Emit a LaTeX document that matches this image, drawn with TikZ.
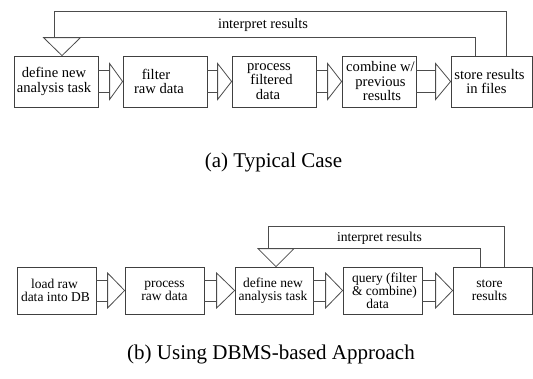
\documentclass[tikz,border=0pt]{standalone}
\usepackage{fontspec}
\setmainfont{Liberation Serif}
\usetikzlibrary{calc}
\newcommand{\hollowarr}[5]{%
  \draw[ln] ($(#1.east)+(0,-#3)$) -- ($(#2.west)+(-#4,-#3)$);
  \draw[ln] ($(#1.east)+(0,#3)$) -- ($(#2.west)+(-#4,#3)$);
  \draw[ln] ($(#2.west)+(-#4,-#5)$) -- (#2.west) -- ($(#2.west)+(-#4,#5)$) -- cycle;}
\newcommand{\shl}[2]{\hspace*{#1}#2\hspace*{-#1}}
\begin{document}
\begin{tikzpicture}[x=1pt,y=-1pt,
  box/.style={draw=black!75, line width=0.8pt, inner sep=0pt, align=center,
    font=\fontsize{14.6}{14.5}\selectfont},
  sbox/.style={box, font=\fontsize{13.5}{13}\selectfont},
  ln/.style={draw=black!70, line width=0.8pt, line join=miter},
  lbl/.style={inner sep=0pt, font=\fontsize{14.4}{14}\selectfont},
  slbl/.style={inner sep=0pt, font=\fontsize{13.6}{13}\selectfont},
  captext/.style={anchor=base, inner sep=0pt, font=\fontsize{21}{24}\selectfont}]
\useasboundingbox (0,0) rectangle (533,378);

% ---- (a) top row
\node[box, minimum width=84pt, minimum height=51pt] (t1) at (56,81.5) {\shl{-2pt}{define new}\\\shl{-2pt}{analysis task}};
\node[box, minimum width=84pt, minimum height=51pt] (t2) at (165,81.5) {\shl{-9pt}{filter}\\\shl{-6pt}{raw data}};
\node[box, minimum width=84pt, minimum height=51pt] (t3) at (274,81.5) {\shl{-5pt}{process}\\\shl{-5pt}{filtered}\\\shl{-6pt}{data}};
\node[box, minimum width=74pt, minimum height=51pt] (t4) at (379,81.5) {\shl{1.5pt}{combine w/}\\\shl{3pt}{previous}\\\shl{3pt}{results}};
\node[box, minimum width=81pt, minimum height=51pt] (t5) at (491.5,81.5) {\shl{-2pt}{store results}\\\shl{-5pt}{in files}};

\hollowarr{t1}{t2}{10.7}{13}{18}
\hollowarr{t2}{t3}{10.7}{14}{18}
\hollowarr{t3}{t4}{10.7}{14}{18}
\hollowarr{t4}{t5}{10.7}{15}{18}

% feedback (a)
\coordinate (ttip) at ($(t1.north)+(6,0)$);
\draw[ln] (ttip) -- ++(-18.5,-18) -- ++(37,0) -- cycle;
\draw[ln] ($(t5.north)+(14.5,0)$) |- ($(ttip)+(-8,-44)$) -- ($(ttip)+(-8,-18)$);
\draw[ln] ($(ttip)+(18.5,-18)$) -| ($(t5.north)+(-16.5,0)$);
\node[lbl] (tl) at (263,25.5) {interpret results};

\node[captext] (ca) at (273.5,167) {(a) Typical Case};

% ---- (b) bottom row
\node[sbox, minimum width=79pt, minimum height=47pt] (b1) at (56.5,290.5) {\shl{-2pt}{load raw}\\\shl{-1pt}{data into DB}};
\node[sbox, minimum width=79pt, minimum height=47pt] (b2) at (164.5,290.5) {process\\raw data};
\node[sbox, minimum width=78pt, minimum height=47pt] (b3) at (274,290.5) {\shl{-1pt}{define new}\\\shl{-1pt}{analysis task}};
\node[sbox, minimum width=79pt, minimum height=47pt] (b4) at (382.5,290.5) {\shl{2pt}{query (filter}\\\shl{4pt}{\& combine)}\\\shl{-5pt}{data}};
\node[sbox, minimum width=79pt, minimum height=47pt] (b5) at (492.5,290.5) {\shl{-3pt}{store}\\\shl{-3pt}{results}};

\hollowarr{b1}{b2}{10.5}{17}{17.5}
\hollowarr{b2}{b3}{10.5}{18}{17.5}
\hollowarr{b3}{b4}{10.5}{17}{17.5}
\hollowarr{b4}{b5}{10.5}{17}{17.5}

% feedback (b)
\coordinate (btip) at ($(b3.north)+(2,0)$);
\draw[ln] (btip) -- ++(-18,-18) -- ++(36,0) -- cycle;
\draw[ln] ($(b5.north)+(11.5,0)$) |- ($(btip)+(-8,-40)$) -- ($(btip)+(-8,-18)$);
\draw[ln] ($(btip)+(18,-18)$) -| ($(b5.north)+(-12.5,0)$);
\node[slbl] (bl) at (379.5,238.5) {interpret results};

\node[captext] (cb) at (271,359) {(b) Using DBMS-based Approach};
\end{tikzpicture}
\end{document}
